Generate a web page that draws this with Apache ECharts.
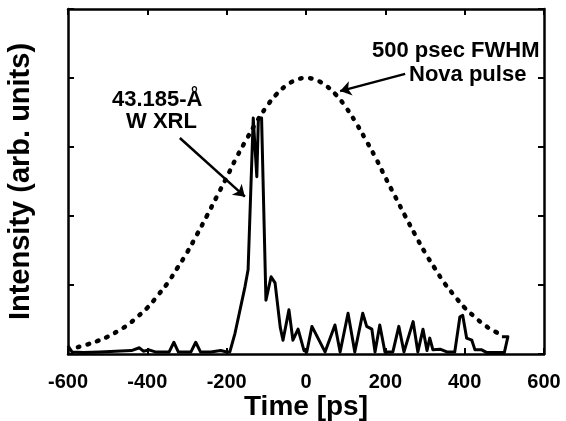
<!DOCTYPE html>
<html>
<head>
<meta charset="utf-8">
<script src="https://cdn.jsdelivr.net/npm/echarts@6/dist/echarts.min.js"></script>
<style type="text/css">
html, body {
	margin: 0;
	padding: 0;
	background: #fff;
}
#main {
	width: 566px;
	height: 421px;
}
</style>
</head>
<body>
<div id="main"></div>
<script>
	// x tick labels (ps)
	var xTicks = [ -600, -400, -200, 0, 200, 400, 600 ];
	// Nova pulse, dotted curve: time (ps) and intensity
	var pulseTime = [ -575, -550, -525, -500, -475, -450, -425, -400, -375, -350, -325, -300, -275, -250, -225, -200, -175, -150, -125, -100, -75, -50, -25, 0,
		25, 50, 75, 100, 125, 150, 175, 200, 225, 250, 275, 300, 325, 350, 375, 400, 425, 450, 475, 495 ];
	var pulseVal = [ 0.10, 0.14, 0.19, 0.25, 0.33, 0.42, 0.54, 0.67, 0.84, 1.02, 1.24, 1.47, 1.73, 2.00, 2.28, 2.56, 2.85, 3.11, 3.36, 3.58, 3.76, 3.89, 3.97, 4.00,
		3.97, 3.89, 3.76, 3.58, 3.36, 3.11, 2.85, 2.56, 2.28, 2.00, 1.73, 1.47, 1.24, 1.02, 0.84, 0.67, 0.54, 0.42, 0.33, 0.27 ];
	// W XRL trace, solid line: time (ps) and intensity
	var xrlTime = [ -600, -590, -560, -520, -480, -440, -420, -410, -396, -380, -345, -333, -322, -290, -278, -266, -240, -215, -200, -192,
		-179, -154, -146, -133, -128, -124, -120, -112, -101, -88, -78, -65, -58, -43, -33, -20, -5, 2, 15, 48,
		73, 86, 106, 123, 143, 153, 166, 174, 186, 199, 219, 234, 247, 270, 282, 295, 305, 312, 320, 338,
		355, 375, 388, 395, 405, 418, 426, 443, 456, 500, 504, 509, 494 ];
	var xrlVal = [ 0.12, 0.03, 0.02, 0.03, 0.04, 0.05, 0.09, 0.04, 0.06, 0.03, 0.03, 0.17, 0.03, 0.03, 0.17, 0.03, 0.03, 0.05, 0.03, 0.03,
		0.30, 0.97, 1.22, 3.42, 3.42, 2.57, 3.42, 3.42, 0.78, 1.12, 1.03, 0.39, 0.20, 0.64, 0.20, 0.36, 0.05, 0.03, 0.40, 0.03,
		0.42, 0.03, 0.59, 0.03, 0.59, 0.40, 0.36, 0.03, 0.42, 0.03, 0.03, 0.40, 0.03, 0.47, 0.03, 0.36, 0.05, 0.23, 0.06, 0.07,
		0.03, 0.03, 0.54, 0.56, 0.23, 0.20, 0.06, 0.06, 0.02, 0.02, 0.03, 0.25, 0.25 ];

	function pairs(xs, ys) {
		var out = [];
		for (var i = 0; i < xs.length; i++) {
			out.push([ xs[i], ys[i] ]);
		}
		return out;
	}

	var font = 'Liberation Sans, Arial, sans-serif';
	var frameLine = { show : true, onZero : false, lineStyle : { color : '#000', width : 2.5 } };
	var innerTick = { show : true, inside : true, length : 6, lineStyle : { color : '#000', width : 2 } };

	var chart = echarts.init(document.getElementById('main'));
	var option = {
		animation : false,
		backgroundColor : '#fff',
		grid : { left : 68, top : 9, width : 476, height : 345, containLabel : false, outerBoundsMode : 'none' },
		xAxis : [ {
			type : 'value',
			min : -600,
			max : 600,
			interval : 200,
			position : 'bottom',
			axisLine : frameLine,
			axisTick : innerTick,
			splitLine : { show : false },
			axisLabel : {
				margin : 18,
				color : '#000',
				fontFamily : font,
				fontWeight : 'bold',
				fontSize : 20,
				formatter : function(v) { return xTicks.indexOf(v) >= 0 ? String(v) : ''; }
			},
			name : 'Time [ps]',
			nameLocation : 'middle',
			nameMoveOverlap : false,
			nameGap : 39,
			nameTextStyle : { color : '#000', fontFamily : font, fontWeight : 'bold', fontSize : 28 }
		}, {
			type : 'value',
			min : -600,
			max : 600,
			interval : 200,
			position : 'top',
			axisLine : frameLine,
			axisTick : innerTick,
			axisLabel : { show : false },
			splitLine : { show : false }
		} ],
		yAxis : [ {
			type : 'value',
			min : 0,
			max : 5,
			interval : 1,
			position : 'left',
			axisLine : frameLine,
			axisTick : innerTick,
			axisLabel : { show : false },
			splitLine : { show : false },
			name : 'Intensity (arb. units)',
			nameLocation : 'middle',
			nameMoveOverlap : false,
			nameGap : 33,
			nameTextStyle : { color : '#000', fontFamily : font, fontWeight : 'bold', fontSize : 29 }
		}, {
			type : 'value',
			min : 0,
			max : 5,
			interval : 1,
			position : 'right',
			axisLine : frameLine,
			axisTick : innerTick,
			axisLabel : { show : false },
			splitLine : { show : false }
		} ],
		series : [ {
			name : 'Nova pulse',
			type : 'line',
			smooth : true,
			symbol : 'none',
			data : pairs(pulseTime, pulseVal),
			lineStyle : { color : '#000', width : 4.5, type : [ 1.5, 8.5 ], cap : 'round' },
			z : 3
		}, {
			name : 'W XRL',
			type : 'line',
			symbol : 'none',
			data : pairs(xrlTime, xrlVal),
			lineStyle : { color : '#000', width : 3, join : 'round' },
			markLine : {
				silent : true,
				symbol : [ 'none', 'arrow' ],
				symbolSize : 11,
				label : { show : false },
				lineStyle : { color : '#000', width : 2.5, type : 'solid' },
				data : [
					[ { coord : [ 250, 4.06 ] }, { coord : [ 86, 3.81 ] } ],
					[ { coord : [ -318, 3.13 ] }, { coord : [ -154, 2.28 ] } ]
				]
			},
			z : 4
		} ],
		graphic : [ {
			type : 'text',
			left : 372,
			top : 40,
			style : { text : '500 psec FWHM', fill : '#000', font : 'bold 22px ' + font }
		}, {
			type : 'text',
			left : 409,
			top : 64,
			style : { text : 'Nova pulse', fill : '#000', font : 'bold 22px ' + font }
		}, {
			type : 'text',
			left : 112,
			top : 89,
			style : { text : '43.185-Å', fill : '#000', font : 'bold 22px ' + font }
		}, {
			type : 'text',
			left : 126,
			top : 111,
			style : { text : 'W XRL', fill : '#000', font : 'bold 22px ' + font }
		} ]
	};
	chart.setOption(option);
</script>
</body>
</html>
